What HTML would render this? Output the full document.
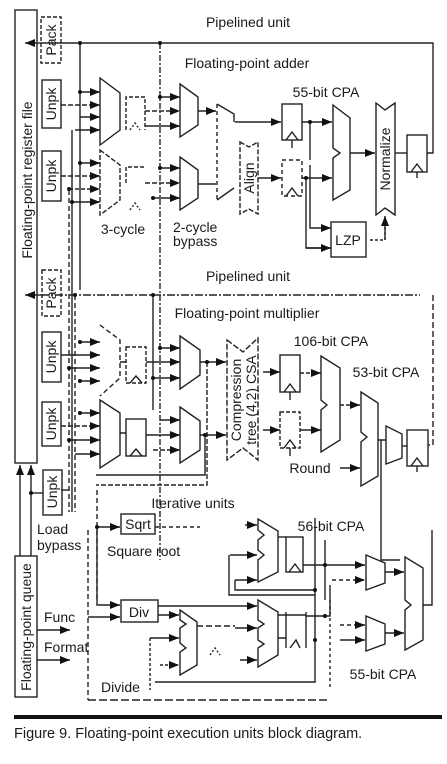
<!DOCTYPE html>
<html><head><meta charset="utf-8"><style>
html,body{margin:0;padding:0;background:#fff;}
svg{display:block;}
text{font-family:"Liberation Sans",sans-serif;fill:#1a1a1a;}
</style></head><body>
<svg width="447" height="764" viewBox="0 0 447 764" xmlns="http://www.w3.org/2000/svg">
<defs>
<marker id="a" markerWidth="10" markerHeight="8" refX="10" refY="4" orient="auto" markerUnits="userSpaceOnUse"><path d="M0,0 L10,4 L0,8 Z" fill="#111"/></marker>
</defs>
<rect width="447" height="764" fill="#fff"/>
<g stroke="#222" stroke-width="1.4" fill="none">
<rect x="15" y="10" width="22" height="453"/>
<rect x="15" y="556" width="22" height="141"/>
<rect x="41" y="17" width="20" height="46" stroke-dasharray="4,2"/>
<rect x="42" y="80" width="19" height="48"/>
<rect x="42" y="151" width="19" height="50"/>
<rect x="42" y="270" width="19" height="46" stroke-dasharray="4,2"/>
<rect x="42" y="332" width="19" height="50"/>
<rect x="42" y="402" width="19" height="44"/>
<rect x="43" y="470" width="19" height="45"/>
<path d="M41,43 H433 V153 H427" />
<path d="M25,43 H41" marker-end="url(#a)" transform="rotate(180 33 43)"/>
<path d="M41,295 H420" stroke-dasharray="8,2,2,2"/>
<path d="M433,295 V445 H428" stroke-dasharray="6,3"/>
<path d="M25,295 H41" marker-end="url(#a)" transform="rotate(180 33 295)"/>
<path d="M80,43 V290"/>
<path d="M160,43 V560" stroke-dasharray="6,2,2,2"/>
<path d="M153,295 V410"/>
<path d="M72,130 V512" />
<path d="M69,190 V512" stroke-dasharray="5,3"/>
<path d="M75,295 V512" stroke-dasharray="5,3"/>
<path d="M88,530 V700" stroke-dasharray="5,3"/>
<path d="M97,490 V600" stroke-dasharray="5,3"/>
<path d="M80,92 H100" marker-end="url(#a)"/>
<path d="M61,105 H100" marker-end="url(#a)" stroke-dasharray="5,2"/>
<path d="M80,117 H100" marker-end="url(#a)"/>
<path d="M75,130 H100" marker-end="url(#a)"/>
<path d="M80,163 H100" marker-end="url(#a)"/>
<path d="M61,176 H100" marker-end="url(#a)" stroke-dasharray="5,2"/>
<path d="M69,189 H100" marker-end="url(#a)" stroke-dasharray="4,2"/>
<path d="M72,202 H100" marker-end="url(#a)"/>
<path d="M100,78 L120,93 V130 L100,145 Z"/>
<path d="M100,150 L120,165 V200 L100,215 Z" stroke-dasharray="5,2"/>
<path d="M126,130 V97 H145 V130" stroke-dasharray="4,2"/>
<path d="M130,130 L135,123 L140,130" stroke-dasharray="2,2"/>
<path d="M126,183 V167 H145" stroke-dasharray="4,2"/>
<path d="M130,210 L135,203 L140,210" stroke-dasharray="2,2"/>
<path d="M145,111 H180" marker-end="url(#a)" stroke-dasharray="5,2"/>
<path d="M145,126 H180" marker-end="url(#a)"/>
<path d="M160,97 H180" marker-end="url(#a)"/>
<path d="M160,168 H180" marker-end="url(#a)"/>
<path d="M145,183 H180" marker-end="url(#a)" stroke-dasharray="5,2"/>
<path d="M153,198 H180" marker-end="url(#a)"/>
<path d="M180,84 L198,97 V125 L180,137 Z"/>
<path d="M180,157 L198,170 V198 L180,210 Z"/>
<path d="M198,111 H216" marker-end="url(#a)"/>
<path d="M198,184 H216"/>
<path d="M217,104 L234,114 V122 M217,200 L234,188" />
<path d="M217,104 V200" stroke-dasharray="4,3"/>
<path d="M235,122 H281" marker-end="url(#a)"/>
<path d="M240,142 L249,147 L258,142 V214 L249,209 L240,214 Z" stroke-dasharray="5,2"/>
<path d="M258,178 H281" marker-end="url(#a)"/>
<rect x="282" y="104" width="20" height="36"/>
<path d="M286,140 L292,132 L298,140"/>
<path d="M292,140 V148"/>
<rect x="282" y="160" width="20" height="36" stroke-dasharray="4,3"/>
<path d="M286,196 L292,188 L298,196"/>
<path d="M302,122 H332" marker-end="url(#a)"/>
<path d="M302,178 H332" marker-end="url(#a)"/>
<path d="M310,122 V160 M306,178 V248 H331" />
<path d="M310,165 V228 H331" marker-end="url(#a)"/>
<path d="M306,248 H331" marker-end="url(#a)"/>
<path d="M333,105 L350,118 V190 L333,200 V158 L340,153 L333,148 Z"/>
<path d="M350,153 H375" marker-end="url(#a)"/>
<path d="M376,103 L385,110 L395,103 V215 L385,208 L376,215 Z"/>
<rect x="331" y="222" width="35" height="35"/>
<path d="M370,240 H385 V216" stroke-dasharray="3,2"/>
<path d="M385,240 V216" marker-end="url(#a)"/>
<path d="M395,153 H407"/>
<rect x="407" y="135" width="20" height="37"/>
<path d="M411,172 L417,164 L423,172 M417,172 V178"/>
<path d="M80,342 H100" marker-end="url(#a)"/>
<path d="M61,355 H100" marker-end="url(#a)"/>
<path d="M69,368 H100" marker-end="url(#a)"/>
<path d="M80,381 H100" marker-end="url(#a)"/>
<path d="M80,413 H100" marker-end="url(#a)"/>
<path d="M61,426 H100" marker-end="url(#a)" stroke-dasharray="5,2"/>
<path d="M69,440 H100" marker-end="url(#a)"/>
<path d="M75,454 H100" marker-end="url(#a)"/>
<path d="M100,325 L120,340 V378 L100,396" stroke-dasharray="5,3"/>
<path d="M100,400 L120,413 V455 L100,468 Z"/>
<rect x="126" y="347" width="20" height="36" stroke-dasharray="4,2"/>
<path d="M130,383 L136,376 L142,383"/>
<rect x="126" y="419" width="20" height="37"/>
<path d="M130,456 L136,449 L142,456"/>
<path d="M120,433 H126 M120,362 H126"/>
<path d="M146,362 H180" marker-end="url(#a)"/>
<path d="M160,348 H180" marker-end="url(#a)"/>
<path d="M153,378 H180" marker-end="url(#a)"/>
<path d="M160,420 H180" marker-end="url(#a)"/>
<path d="M146,435 H180" marker-end="url(#a)"/>
<path d="M153,450 H180" marker-end="url(#a)" stroke-dasharray="5,2"/>
<path d="M180,336 L200,350 V375 L180,389 Z"/>
<path d="M180,407 L200,421 V450 L180,463 Z"/>
<path d="M200,362 H226" marker-end="url(#a)"/>
<path d="M200,435 H226" marker-end="url(#a)"/>
<path d="M207,362 V485 H96" stroke-dasharray="5,2"/>
<path d="M205,435 V475 H96"/>
<path d="M227,340 L243,352 L258,338 V460 L243,448 L227,460 Z" stroke-dasharray="6,2"/>
<path d="M263,372 H280" marker-end="url(#a)"/>
<path d="M263,430 H280" marker-end="url(#a)"/>
<rect x="280" y="355" width="20" height="37"/>
<path d="M284,392 L290,384 L296,392 M290,392 V400"/>
<rect x="280" y="412" width="20" height="36" stroke-dasharray="4,2"/>
<path d="M284,448 L290,440 L296,448 M290,448 V456"/>
<path d="M300,373 H321" marker-end="url(#a)" stroke-dasharray="4,2"/>
<path d="M300,430 H321" marker-end="url(#a)"/>
<path d="M321,356 L340,368 V440 L321,452 V410 L327,405 L321,400 Z"/>
<path d="M340,405 H360" marker-end="url(#a)" stroke-dasharray="4,2"/>
<path d="M361,392 L378,403 V476 L361,486 V442 L367,437 L361,432 Z"/>
<path d="M340,468 H360" marker-end="url(#a)"/>
<path d="M378,440 H386 M381,440 V560 H400"/>
<path d="M386,426 L402,434 V458 L386,464 Z"/>
<path d="M402,446 H407"/>
<rect x="407" y="430" width="21" height="36"/>
<path d="M411,466 L417,458 L423,466 M417,466 V472"/>
<path d="M88,700 H330" stroke-dasharray="8,3"/>
<path d="M61,490 H69"/>
<path d="M20,556 V465" marker-end="url(#a)"/>
<path d="M31,556 V465" marker-end="url(#a)"/>
<path d="M31,493 H43"/>
<path d="M37,630 H70" marker-end="url(#a)"/>
<path d="M37,660 H70" marker-end="url(#a)"/>
<path d="M97,527 H120" marker-end="url(#a)"/>
<rect x="121" y="514" width="34" height="20"/>
<path d="M155,527 H200" stroke-dasharray="4,3"/>
<path d="M97,527 V605 H120" marker-end="url(#a)"/>
<path d="M88,617 H120" marker-end="url(#a)"/>
<rect x="121" y="600" width="37" height="22"/>
<path d="M158,606 H257" marker-end="url(#a)"/>
<path d="M158,615 H179" marker-end="url(#a)"/>
<path d="M180,610 L197,622 V665 L180,675 V652 L186,648 L180,643 V628 L186,624 L180,620 Z"/>
<path d="M150,638 H179" marker-end="url(#a)"/>
<path d="M150,638 V690" stroke-dasharray="3,2"/>
<path d="M160,665 H179" marker-end="url(#a)" stroke-dasharray="3,2"/>
<path d="M197,626 H235" stroke-dasharray="6,3"/>
<path d="M210,655 L215,648 L220,655" stroke-dasharray="2,2"/>
<path d="M155,682 H315 V518" />
<path d="M235,628 H257" marker-end="url(#a)"/>
<path d="M240,660 H257" marker-end="url(#a)"/>
<path d="M258,600 L278,612 V655 L258,667 V648 L264,644 L258,640 V628 L264,624 L258,620 Z"/>
<path d="M278,615 H306 M278,638 H286 M286,612 V648 M306,612 V648 M290,648 L296,640 L300,648"/>
<path d="M306,616 H330 V585"/>
<path d="M245,525 H257" marker-end="url(#a)"/>
<path d="M230,555 H257" marker-end="url(#a)"/>
<path d="M235,580 H257" marker-end="url(#a)"/>
<path d="M258,519 L278,531 V572 L258,582 V560 L264,555 L258,550 V540 L264,535 L258,530 Z"/>
<path d="M278,537 H286"/>
<rect x="286" y="537" width="17" height="35"/>
<path d="M289,572 L295,564 L301,572"/>
<path d="M303,565 H365" marker-end="url(#a)"/>
<path d="M325,540 V600"/>
<path d="M229,555 V595 H315"/>
<path d="M235,580 V590 H315"/>
<path d="M332,580 H365" marker-end="url(#a)" stroke-dasharray="4,3"/>
<path d="M340,625 H365" marker-end="url(#a)" stroke-dasharray="4,3"/>
<path d="M340,640 H365" marker-end="url(#a)"/>
<path d="M366,555 L385,563 V583 L366,590 Z"/>
<path d="M366,616 L385,624 V644 L366,651 Z"/>
<path d="M385,572 H404" marker-end="url(#a)"/>
<path d="M385,633 H404" marker-end="url(#a)"/>
<path d="M405,557 L423,568 V640 L405,650 V610 L411,605 L405,600 Z"/>
<path d="M423,605 H432 V530"/>
<path d="M330,600 V690" stroke-dasharray="3,3"/>
</g>
<g fill="#111">
<circle cx="80" cy="43" r="2"/><circle cx="160" cy="43" r="2"/>
<circle cx="80" cy="92" r="2"/><circle cx="80" cy="163" r="2"/><circle cx="69" cy="189" r="2"/><circle cx="72" cy="202" r="2"/>
<circle cx="160" cy="97" r="2"/><circle cx="160" cy="168" r="2"/><circle cx="153" cy="198" r="2"/>
<circle cx="310" cy="122" r="2"/><circle cx="306" cy="178" r="2"/>
<circle cx="75" cy="295" r="2"/><circle cx="153" cy="295" r="2"/>
<circle cx="80" cy="342" r="2"/><circle cx="69" cy="368" r="2"/><circle cx="80" cy="381" r="2"/><circle cx="80" cy="413" r="2"/><circle cx="69" cy="440" r="2"/>
<circle cx="160" cy="348" r="2"/><circle cx="153" cy="378" r="2"/><circle cx="207" cy="362" r="2"/><circle cx="205" cy="435" r="2"/>
<circle cx="31" cy="493" r="2"/><circle cx="97" cy="527" r="2"/>
<circle cx="325" cy="565" r="2"/><circle cx="315" cy="590" r="2"/><circle cx="325" cy="616" r="2"/><circle cx="315" cy="640" r="2"/>
</g>
<rect x="14" y="715" width="428" height="4" fill="#111"/>
<g font-size="14">
<text x="248" y="27" text-anchor="middle">Pipelined unit</text>
<text x="247" y="68" text-anchor="middle">Floating-point adder</text>
<text x="326" y="97" text-anchor="middle">55-bit CPA</text>
<text x="123" y="234" text-anchor="middle">3-cycle</text>
<text x="173" y="232">2-cycle</text>
<text x="173" y="246">bypass</text>
<text x="348" y="245" text-anchor="middle">LZP</text>
<text x="248" y="281" text-anchor="middle">Pipelined unit</text>
<text x="247" y="318" text-anchor="middle">Floating-point multiplier</text>
<text x="331" y="346" text-anchor="middle">106-bit CPA</text>
<text x="386" y="377" text-anchor="middle">53-bit CPA</text>
<text x="310" y="473" text-anchor="middle">Round</text>
<text x="193" y="508" text-anchor="middle">Iterative units</text>
<text x="138" y="529" text-anchor="middle">Sqrt</text>
<text x="107" y="556">Square root</text>
<text x="37" y="534">Load</text>
<text x="37" y="550">bypass</text>
<text x="139" y="617" text-anchor="middle">Div</text>
<text x="44" y="622">Func</text>
<text x="44" y="652">Format</text>
<text x="101" y="692">Divide</text>
<text x="331" y="531" text-anchor="middle">56-bit CPA</text>
<text x="383" y="679" text-anchor="middle">55-bit CPA</text>
<text transform="translate(32,180) rotate(-90)" text-anchor="middle">Floating-point register file</text>
<text transform="translate(31,627) rotate(-90)" text-anchor="middle">Floating-point queue</text>
<text transform="translate(56,40) rotate(-90)" text-anchor="middle">Pack</text>
<text transform="translate(56,104) rotate(-90)" text-anchor="middle">Unpk</text>
<text transform="translate(56,176) rotate(-90)" text-anchor="middle">Unpk</text>
<text transform="translate(56,293) rotate(-90)" text-anchor="middle">Pack</text>
<text transform="translate(56,357) rotate(-90)" text-anchor="middle">Unpk</text>
<text transform="translate(56,424) rotate(-90)" text-anchor="middle">Unpk</text>
<text transform="translate(57,492) rotate(-90)" text-anchor="middle">Unpk</text>
<text transform="translate(254,178) rotate(-90)" text-anchor="middle">Align</text>
<text transform="translate(390,159) rotate(-90)" text-anchor="middle">Normalize</text>
<text transform="translate(241,400) rotate(-90)" text-anchor="middle">Compression</text>
<text transform="translate(256,400) rotate(-90)" text-anchor="middle">tree (4,2) CSA</text>
</g>
<text x="14" y="738" font-size="14.5">Figure 9. Floating-point execution units block diagram.</text>
</svg>
</body></html>
